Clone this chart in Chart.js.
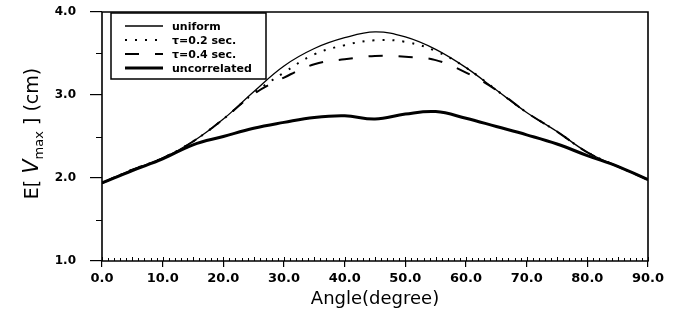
<!DOCTYPE html>
<html><head><meta charset="utf-8">
<script src="https://cdn.jsdelivr.net/npm/chart.js@4/dist/chart.umd.min.js"></script>
<style>html,body{margin:0;padding:0;background:#fff;}#wrap{width:679px;height:322px;position:relative;}</style>
</head><body><div id="wrap"><canvas id="c" width="679" height="322"></canvas></div>
<script>
// Angle (degree)
const angles = [0,5,10,15,20,25,30,35,40,45,50,55,60,65,70,75,80,85,90];
// E[Vmax] (cm)
const uniform      = [1.94,2.10,2.24,2.44,2.71,3.04,3.35,3.56,3.69,3.76,3.70,3.55,3.33,3.06,2.79,2.56,2.31,2.14,1.98];
const tau02        = [1.94,2.10,2.24,2.44,2.71,3.02,3.27,3.49,3.60,3.66,3.64,3.53,3.33,3.06,2.79,2.56,2.31,2.14,1.98];
const tau04        = [1.94,2.10,2.24,2.44,2.71,3.01,3.21,3.37,3.43,3.47,3.46,3.42,3.27,3.06,2.79,2.56,2.31,2.14,1.98];
const uncorrelated = [1.94,2.09,2.23,2.40,2.50,2.60,2.67,2.73,2.75,2.71,2.77,2.80,2.72,2.62,2.52,2.41,2.27,2.14,1.98];
const seriesNames = ['uniform','\u03c4=0.2 sec.','\u03c4=0.4 sec.','uncorrelated'];
const xTickValues = [0,10,20,30,40,50,60,70,80,90];
const yTickValues = [1,2,3,4];

const pts = arr => angles.map((a,i)=>({x:a,y:arr[i]}));

const styles = [
  {borderWidth:1.3, borderDash:[]},
  {borderWidth:2, borderDash:[2,8]},
  {borderWidth:2, borderDash:[14,16]},
  {borderWidth:3, borderDash:[]}
];
const seriesData = [uniform, tau02, tau04, uncorrelated];

const extras = {
  id:'extras',
  afterDraw(chart){
    const ctx = chart.ctx, a = chart.chartArea, x = chart.scales.x, y = chart.scales.y;
    ctx.save();
    ctx.setLineDash([]);
    ctx.strokeStyle = '#000';
    ctx.fillStyle = '#000';
    // frame
    ctx.lineWidth = 1.6;
    ctx.beginPath();
    ctx.rect(a.left, a.top, a.right - a.left, a.bottom - a.top);
    ctx.stroke();
    // minor x ticks
    ctx.lineWidth = 1;
    ctx.beginPath();
    for (let d = 0; d <= 90; d++) {
      const px = Math.round(x.getPixelForValue(d)) + 0.5;
      ctx.moveTo(px, a.bottom); ctx.lineTo(px, a.bottom - (d % 5 === 0 ? 4 : 3));
    }
    // minor y ticks
    for (let v = 1.5; v < 4; v += 1) {
      const py = Math.round(y.getPixelForValue(v)) + 0.5;
      ctx.moveTo(a.left, py); ctx.lineTo(a.left - 6, py);
    }
    ctx.stroke();
    // legend
    const bx = a.left + 9, by = a.top + 1, bw = 155, bh = 66;
    ctx.lineWidth = 1.5;
    ctx.beginPath();
    ctx.rect(bx, by, bw, bh);
    ctx.stroke();
    ctx.font = 'bold 11px "DejaVu Sans"';
    ctx.textBaseline = 'middle';
    ctx.textAlign = 'left';
    chart.data.datasets.forEach((ds, i) => {
      const ry = by + 13 + i * 14;
      ctx.beginPath();
      ctx.lineWidth = ds.borderWidth;
      ctx.setLineDash(ds.borderDash || []);
      ctx.moveTo(bx + 14, ry); ctx.lineTo(bx + 52, ry);
      ctx.stroke();
      ctx.setLineDash([]);
      ctx.fillText(ds.label, bx + 61, ry + 1);
    });
    // y title: E[ V max ] (cm)
    ctx.translate(38, (a.top + a.bottom) / 2 - 3);
    ctx.rotate(-Math.PI / 2);
    ctx.textBaseline = 'alphabetic';
    const parts = [
      {t:'E[ ', f:'19px "DejaVu Sans"', dy:0},
      {t:'V', f:'italic 21px "DejaVu Sans"', dy:0},
      {t:'max', f:'13px "DejaVu Sans"', dy:5},
      {t:' ] (cm)', f:'19px "DejaVu Sans"', dy:0}
    ];
    let tot = 0;
    parts.forEach(p => { ctx.font = p.f; p.w = ctx.measureText(p.t).width; tot += p.w; });
    let cx = -tot / 2;
    parts.forEach(p => { ctx.font = p.f; ctx.fillText(p.t, cx, p.dy); cx += p.w; });
    ctx.restore();
  }
};

new Chart(document.getElementById('c'), {
  type:'line',
  data:{
    datasets: seriesNames.map((n,i)=>({
      label:n,
      data:pts(seriesData[i]),
      borderColor:'#000',
      backgroundColor:'#000',
      borderWidth:styles[i].borderWidth,
      borderDash:styles[i].borderDash,
      pointRadius:0,
      tension:0.4,
      fill:false
    }))
  },
  options:{
    responsive:false,
    animation:false,
    devicePixelRatio:1,
    layout:{padding:{top:12,right:31,left:0,bottom:0}},
    plugins:{legend:{display:false}, tooltip:{enabled:false}},
    scales:{
      x:{
        type:'linear', min:0, max:90,
        afterBuildTicks(s){ s.ticks = xTickValues.map(v=>({value:v})); },
        afterFit(s){ s.height=61; },
        grid:{display:true, drawOnChartArea:false, drawTicks:true, tickLength:6, color:'#000', lineWidth:1.2},
        border:{display:false},
        ticks:{color:'#000', padding:4, maxRotation:0, autoSkip:false, font:{family:'DejaVu Sans', weight:'bold', size:13}, callback:v=>Number(v).toFixed(1)},
        title:{display:true, text:'Angle(degree)', color:'#000', font:{family:'DejaVu Sans', size:18}, padding:{top:0,bottom:12}}
      },
      y:{
        type:'linear', min:1, max:4,
        afterBuildTicks(s){ s.ticks = yTickValues.map(v=>({value:v})); },
        afterFit(s){ s.width=102; s.paddingTop=0; s.paddingBottom=0; },
        grid:{display:true, drawOnChartArea:false, drawTicks:true, tickLength:12, color:'#000', lineWidth:1.2},
        border:{display:false},
        ticks:{color:'#000', padding:14, font:{family:'DejaVu Sans', weight:'bold', size:12}, callback:v=>Number(v).toFixed(1)}
      }
    }
  },
  plugins:[extras]
});
</script></body></html>
